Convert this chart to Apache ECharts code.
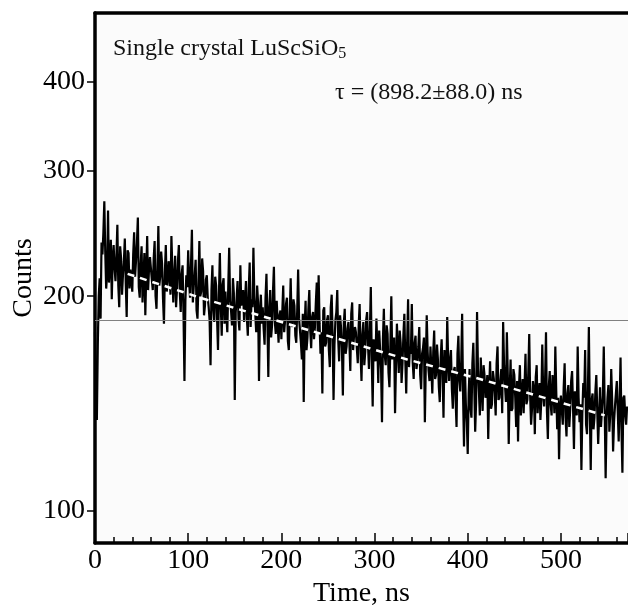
<!DOCTYPE html>
<html>
<head>
<meta charset="utf-8">
<script src="https://cdn.jsdelivr.net/npm/echarts@6/dist/echarts.min.js"></script>
<style>
html,body{margin:0;padding:0;background:#fff;}
#c{width:628px;height:608px;}
</style>
</head>
<body>
<div id="c"></div>
<script>
// channel spacing (ns) of the decay trace
const timeStep = 1;
// counts, one value per 1 ns channel starting at t = 0
const counts = [
  178,142,134,171,200,212,186,238,229,246,272,231,205,215,264,209,221,240,198,226,
  236,219,210,228,252,207,193,235,226,201,214,224,241,209,187,232,230,205,218,211,
  203,229,246,213,224,238,258,206,199,222,235,196,211,230,188,215,243,204,219,227,
  228,211,204,226,239,200,192,219,251,207,213,231,222,198,183,216,236,203,209,224,
  217,201,243,219,196,212,228,193,205,224,236,203,190,215,221,188,152,197,214,206,
  232,210,199,221,248,196,207,214,225,191,186,208,239,200,203,226,217,188,194,211,
  214,199,193,185,160,204,221,192,184,213,207,186,168,201,230,194,176,208,212,183,
  203,188,178,206,234,197,191,182,212,202,143,190,199,210,186,179,221,194,195,204,
  184,197,210,186,176,205,223,181,198,193,234,200,189,178,207,196,152,189,201,183,
  193,180,171,199,215,186,154,192,204,175,182,203,220,184,177,197,196,172,188,191,
  174,190,207,178,185,195,199,173,168,188,212,183,181,198,194,176,172,191,218,186,
  186,172,163,189,142,181,197,168,175,192,204,179,169,187,190,174,181,196,209,178,
  214,183,166,178,146,191,193,170,172,185,188,168,159,193,201,176,143,171,185,190,
  204,174,162,188,181,169,145,183,192,166,170,180,184,172,157,189,196,168,176,181,
  178,169,161,182,195,166,152,177,184,160,167,185,190,171,158,179,206,163,140,174,
  173,162,186,170,151,179,168,158,133,174,192,165,160,182,177,156,149,171,200,163,
  164,175,137,160,183,168,156,179,172,151,161,177,189,163,146,172,198,159,170,166,
  195,161,153,172,176,158,162,170,181,155,148,166,169,175,133,160,188,167,157,152,
  170,158,146,167,179,153,155,171,163,149,142,164,174,156,135,168,160,151,187,162,
  152,163,168,148,139,157,159,143,131,166,176,152,147,161,189,145,123,158,141,133,
  120,146,158,139,135,161,172,150,129,142,190,158,147,136,164,149,138,160,155,144,
  147,155,126,148,162,139,141,157,153,146,136,161,170,143,144,152,158,137,184,160,
  150,142,178,155,124,147,163,138,139,158,155,144,131,152,125,149,160,136,146,153,
  137,150,166,141,143,156,177,145,132,139,152,148,128,154,160,137,145,151,134,143,
  171,146,140,152,178,138,126,149,157,141,136,155,149,137,170,147,130,144,118,139,
  145,138,132,149,161,135,127,146,150,131,139,152,157,140,122,147,143,136,170,144,
  133,141,114,137,151,144,168,132,128,148,181,139,114,143,146,130,135,147,155,138,
  124,136,149,131,138,145,170,139,111,134,144,150,129,137,158,143,121,133,140,146,
  152,138,125,142,164,130,113,144,145,136,132,140
];
// exponential fit (white dashed)
const fitTimes = [35, 113, 200, 335, 413, 547];
const fitCounts = [215, 199, 184, 163, 153, 136];
// horizontal reference line level
const refLevel = 185;
// axis ranges & tick labels
const xMin = 0, xMax = 572, xInterval = 100;
const yMin = 90, yMax = 500;
const yTickLabels = [100, 200, 300, 400];

const traceData = counts.map((v, i) => [i * timeStep, v]);
const fitData = fitTimes.map((t, i) => [t, fitCounts[i]]);

const serif = 'Liberation Serif';
const chart = echarts.init(document.getElementById('c'), null, {renderer: 'canvas'});
chart.setOption({
  animation: false,
  backgroundColor: '#ffffff',
  title: [
    {
      text: '{a|Single crystal LuScSiO}{s|5}',
      left: 108, top: 30,
      textStyle: {
        fontWeight: 'normal',
        rich: {
          a: {fontFamily: serif, fontSize: 24, fontWeight: 'normal', color: '#111'},
          s: {fontFamily: serif, fontSize: 16, fontWeight: 'normal', color: '#111', padding: [11, 0, 0, 0]}
        }
      }
    },
    {
      text: 'τ = (898.2±88.0) ns',
      left: 330, top: 76,
      textStyle: {fontFamily: serif, fontSize: 24, fontWeight: 'normal', color: '#111'}
    }
  ],
  grid: {left: 95, right: 0, top: 13, bottom: 65, show: true, backgroundColor: '#fbfbfb', borderWidth: 0,
         containLabel: false, outerBoundsMode: 'none'},
  xAxis: [
    {
      type: 'value', min: xMin, max: xMax, interval: xInterval,
      name: 'Time, ns', nameLocation: 'middle', nameGap: 37, nameMoveOverlap: false,
      nameTextStyle: {fontFamily: serif, fontSize: 28, color: '#000'},
      axisLine: {show: true, onZero: false, lineStyle: {color: '#000', width: 3.5}},
      axisTick: {show: true, inside: true, length: 10, lineStyle: {color: '#000', width: 1.5}},
      minorTick: {show: true, splitNumber: 5, length: 6, lineStyle: {color: '#000', width: 1.5}},
      axisLabel: {fontFamily: serif, fontSize: 28, color: '#000', margin: 4, showMaxLabel: false},
      splitLine: {show: false}
    },
    {
      type: 'value', position: 'top', min: xMin, max: xMax,
      axisLine: {show: true, onZero: false, lineStyle: {color: '#000', width: 3.5}},
      axisTick: {show: false}, axisLabel: {show: false}, splitLine: {show: false}
    }
  ],
  yAxis: [
    {
      type: 'log', logBase: 10, min: yMin, max: yMax, show: false,
      splitLine: {show: false}
    },
    {
      type: 'value', min: Math.log10(yMin), max: Math.log10(yMax), position: 'left',
      name: 'Counts', nameLocation: 'middle', nameGap: 57, nameRotate: 90, nameMoveOverlap: false,
      nameTextStyle: {fontFamily: serif, fontSize: 28, color: '#000'},
      axisLine: {show: true, onZero: false, lineStyle: {color: '#000', width: 3.5}},
      axisTick: {show: true, inside: false, length: 8, customValues: yTickLabels.map(Math.log10),
                 lineStyle: {color: '#000', width: 1.5}},
      axisLabel: {fontFamily: serif, fontSize: 28, color: '#000', margin: 10,
                  customValues: yTickLabels.map(Math.log10),
                  formatter: v => String(Math.round(Math.pow(10, v)))},
      splitLine: {show: false}
    }
  ],
  series: [
    {
      type: 'line', xAxisIndex: 0, yAxisIndex: 0, data: traceData,
      showSymbol: false, symbol: 'none', sampling: null,
      lineStyle: {color: '#000', width: 2.2},
      z: 2,
      markLine: {
        silent: true, symbol: 'none', label: {show: false},
        lineStyle: {color: '#808080', width: 1, type: 'solid'},
        data: [{yAxis: refLevel}]
      }
    },
    {
      type: 'line', xAxisIndex: 0, yAxisIndex: 0, data: fitData,
      showSymbol: false, symbol: 'none', smooth: false,
      lineStyle: {color: '#ffffff', width: 2.5, type: [7, 6]},
      z: 5
    }
  ]
});
</script>
</body>
</html>
